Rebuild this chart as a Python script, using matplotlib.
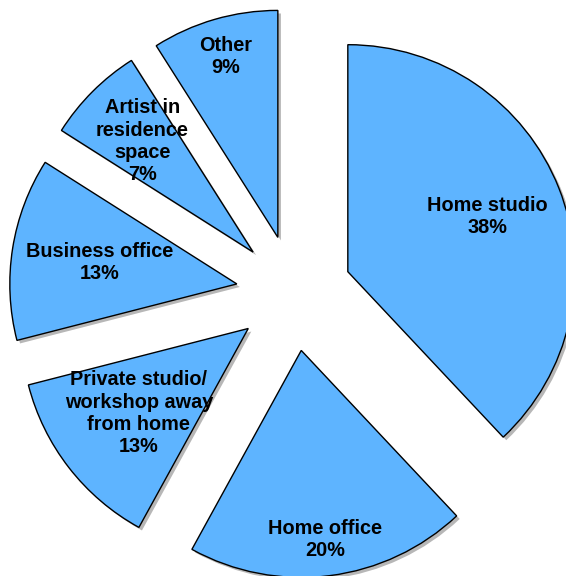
import numpy as np
import matplotlib.pyplot as plt
import matplotlib.patheffects as pe

plt.rcParams['font.family'] = ['Liberation Sans', 'DejaVu Sans']

categories = ["Home studio", "Home office", "Private studio/\nworkshop away\nfrom home",
              "Business office", "Artist in\nresidence\nspace", "Other"]
shares = [38, 20, 13, 13, 7, 9]

# radial position of each label inside its slice (fraction of radius)
label_dist = [0.66, 0.84, 0.61, 0.61, 0.69, 0.83]

fig = plt.figure(figsize=(5.66, 5.76), dpi=100)
ax = fig.add_axes([0, 0, 1, 1])

shadow = [pe.SimplePatchShadow(offset=(2.2, -2.2), shadow_rgbFace='#999999', alpha=0.7),
          pe.Normal()]
wedges, _ = ax.pie(shares, startangle=90, counterclock=False, radius=1.0,
                   explode=[0.255] * len(shares), colors=['#5eb4ff'] * len(shares),
                   wedgeprops=dict(edgecolor='black', linewidth=1.0, path_effects=shadow))

for w, name, pct, d in zip(wedges, categories, shares, label_dist):
    mid = np.deg2rad((w.theta1 + w.theta2) / 2)
    cx, cy = w.center
    ax.text(cx + d * w.r * np.cos(mid), cy + d * w.r * np.sin(mid), f"{name}\n{pct}%",
            ha='center', va='center', fontsize=14.3, fontweight='bold',
            linespacing=1.22)

ax.set_aspect('equal')
ax.set_xlim(-294 / 227, (566 - 294) / 227)
ax.set_ylim(-(576 - 293) / 227, 293 / 227)
ax.axis('off')

fig.savefig("out.png", dpi=100)
